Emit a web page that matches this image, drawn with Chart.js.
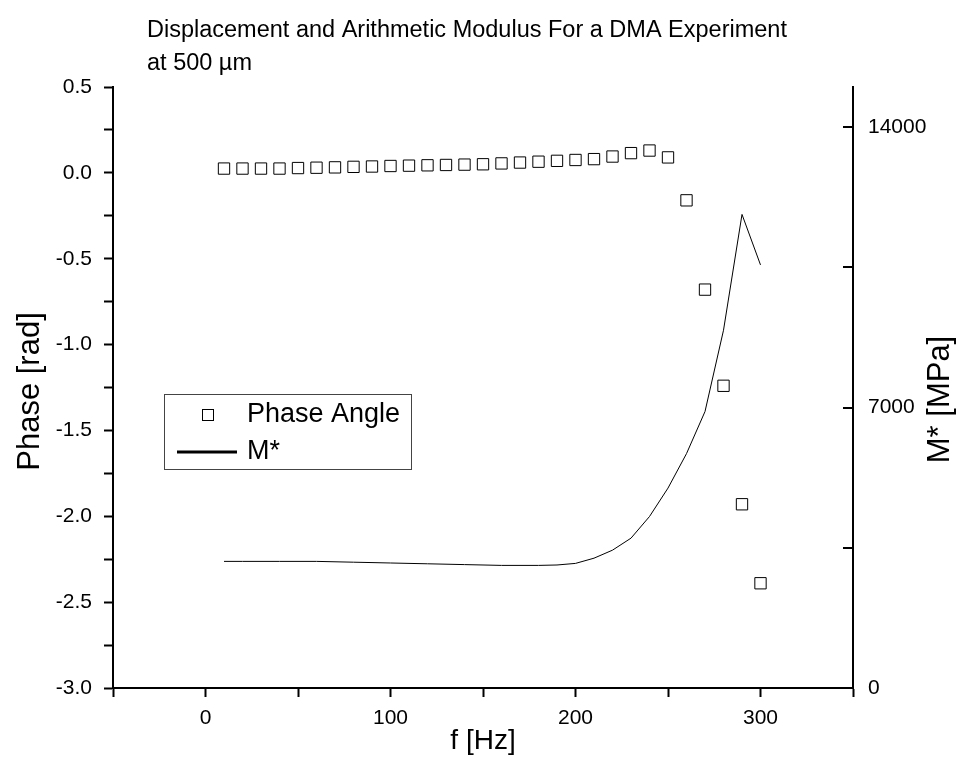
<!DOCTYPE html>
<html>
<head>
<meta charset="utf-8">
<script src="https://cdn.jsdelivr.net/npm/chart.js@4.4.0/dist/chart.umd.min.js"></script>
<style>
html, body { margin: 0; padding: 0; background: #fff; }
</style>
</head>
<body>
<canvas id="dma" width="972" height="776"></canvas>
<script>
// frequency [Hz]
const freq = [10, 20, 30, 40, 50, 60, 70, 80, 90, 100,
              110, 120, 130, 140, 150, 160, 170, 180, 190, 200,
              210, 220, 230, 240, 250, 260, 270, 280, 290, 300];
// phase angle [rad]
const phase = [0.025, 0.025, 0.025, 0.025, 0.028, 0.03, 0.032, 0.035, 0.037, 0.04,
               0.042, 0.044, 0.046, 0.048, 0.05, 0.055, 0.06, 0.065, 0.07, 0.075,
               0.08, 0.095, 0.115, 0.13, 0.09, -0.16, -0.68, -1.24, -1.93, -2.39];
// M* [MPa]
const modulus = [3160, 3160, 3160, 3160, 3160, 3160, 3150, 3140, 3130, 3120,
                 3110, 3100, 3090, 3080, 3070, 3060, 3060, 3060, 3070, 3110,
                 3240, 3440, 3740, 4280, 4990, 5850, 6900, 8930, 11820, 10560];

// right axis ticks (labels only on 0, 7000, 14000)
const y2Ticks = [0, 3500, 7000, 10500, 14000];

const titleLines = ['Displacement and Arithmetic Modulus For a DMA Experiment', 'at 500 \u00b5m'];
const xTitle = 'f [Hz]';
const yTitle = 'Phase [rad]';
const y2Title = 'M* [MPa]';
const seriesNames = ['Phase Angle', 'M*'];

const FONT = '"Liberation Sans", Arial, sans-serif';

// title, legend, axis titles, inward ticks on the right axis
const extras = {
    id: 'extras',
    afterDraw(chart) {
        const ctx = chart.ctx;
        const a = chart.chartArea;
        const midY = (a.top + a.bottom) / 2;
        ctx.save();
        ctx.fillStyle = '#000';
        ctx.font = '23.5px ' + FONT;
        ctx.textAlign = 'left';
        ctx.textBaseline = 'alphabetic';
        ctx.fillText(titleLines[0], a.left + 34, 37);
        ctx.fillText(titleLines[1], a.left + 34, 70);

        const s = chart.scales.y2;
        ctx.strokeStyle = '#000';
        ctx.lineWidth = 2;
        y2Ticks.forEach(v => {
            const py = Math.round(s.getPixelForValue(v));
            ctx.beginPath();
            ctx.moveTo(a.right - 10, py);
            ctx.lineTo(a.right, py);
            ctx.stroke();
        });

        // legend
        const lx = a.left + 51, ly = a.top + 307;
        ctx.strokeStyle = '#444';
        ctx.lineWidth = 1;
        ctx.strokeRect(lx + 0.5, ly + 0.5, 247, 75);
        ctx.strokeStyle = '#000';
        ctx.strokeRect(lx + 38.5, ly + 15.5, 11, 11);
        ctx.lineWidth = 3;
        ctx.beginPath();
        ctx.moveTo(lx + 13, ly + 58);
        ctx.lineTo(lx + 73, ly + 58);
        ctx.stroke();
        ctx.font = '27px ' + FONT;
        ctx.textBaseline = 'middle';
        ctx.fillText(chart.data.datasets[0].label, lx + 83, ly + 21);
        ctx.fillText(chart.data.datasets[1].label, lx + 83, ly + 58);

        // axis titles
        ctx.textAlign = 'center';
        ctx.font = '28px ' + FONT;
        ctx.fillText(xTitle, (a.left + a.right) / 2, 741);

        ctx.font = '31px ' + FONT;
        ctx.save();
        ctx.translate(30, midY + 4);
        ctx.rotate(-Math.PI / 2);
        ctx.fillText(yTitle, 0, 0);
        ctx.restore();

        ctx.translate(940, midY + 12);
        ctx.rotate(-Math.PI / 2);
        ctx.fillText(y2Title, 0, 0);
        ctx.restore();
    }
};

new Chart(document.getElementById('dma'), {
    type: 'scatter',
    data: {
        datasets: [{
            label: seriesNames[0],
            data: freq.map((f, i) => ({x: f, y: phase[i]})),
            yAxisID: 'y',
            showLine: false,
            pointStyle: 'rect',
            pointRadius: 8,
            pointBorderWidth: 1,
            pointBorderColor: '#000',
            pointBackgroundColor: 'rgba(0,0,0,0)'
        }, {
            type: 'line',
            label: seriesNames[1],
            data: freq.map((f, i) => ({x: f, y: modulus[i]})),
            yAxisID: 'y2',
            showLine: true,
            tension: 0,
            borderColor: '#000',
            borderWidth: 1,
            pointRadius: 0,
            fill: false
        }]
    },
    options: {
        responsive: false,
        animation: false,
        devicePixelRatio: 1,
        layout: {padding: {top: 87, left: 0, right: 0, bottom: 0}},
        plugins: {
            legend: {display: false},
            title: {display: false},
            tooltip: {enabled: false}
        },
        scales: {
            x: {
                type: 'linear',
                position: 'bottom',
                min: -50,
                max: 350,
                afterFit: s => { s.height = 88; },
                border: {color: '#000', width: 2},
                grid: {drawOnChartArea: false, drawTicks: true, tickLength: 9, tickWidth: 2, tickColor: '#000'},
                ticks: {
                    stepSize: 50,
                    color: '#000',
                    padding: 9,
                    maxRotation: 0,
                    font: {family: FONT, size: 21},
                    callback: v => (v % 100 === 0 ? String(v) : '')
                }
            },
            y: {
                type: 'linear',
                position: 'left',
                min: -3,
                max: 0.5,
                afterFit: s => { s.width = 113; },
                border: {color: '#000', width: 2},
                grid: {drawOnChartArea: false, drawTicks: true, tickLength: 9, tickWidth: 2, tickColor: '#000'},
                ticks: {
                    stepSize: 0.25,
                    color: '#000',
                    padding: 12,
                    font: {family: FONT, size: 21},
                    callback: v => (Math.abs(v * 2 - Math.round(v * 2)) < 1e-6 ? v.toFixed(1) : '')
                }
            },
            y2: {
                type: 'linear',
                position: 'right',
                min: 0,
                max: 15000,
                afterFit: s => { s.width = 119; },
                afterBuildTicks: s => { s.ticks = y2Ticks.map(v => ({value: v})); },
                border: {color: '#000', width: 2},
                grid: {drawOnChartArea: false, drawTicks: false},
                ticks: {
                    color: '#000',
                    padding: 15,
                    autoSkip: false,
                    font: {family: FONT, size: 21},
                    callback: v => (v % 7000 === 0 ? String(v) : '')
                }
            }
        }
    },
    plugins: [extras]
});
</script>
</body>
</html>
